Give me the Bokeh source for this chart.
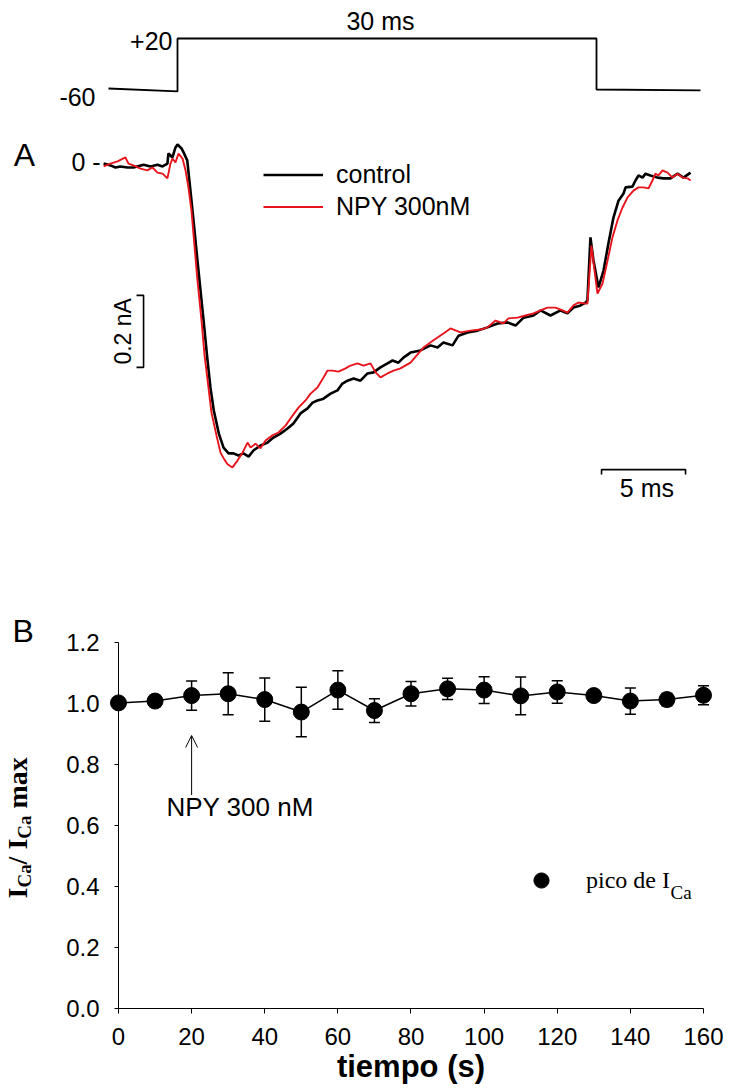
import math
from bokeh.plotting import figure
from bokeh.models import (Range1d, Label, Legend, LegendItem, Whisker, TeeHead, Arrow,
                          OpenHead, ColumnDataSource, FixedTicker, PrintfTickFormatter)
from bokeh.layouts import column
from bokeh.embed import file_html
from bokeh.resources import INLINE

# ---------------- Panel A data: Ca current traces (time in ms, current in nA) -------------
ctrl_t = [-4.40, -3.99, -3.69, -3.39, -2.98, -2.62, -2.02, -1.61, -1.19, -0.89, -0.60, -0.54,
          -0.30, -0.12, 0.00, 0.24, 0.36, 0.58, 0.77, 0.97, 1.17, 1.37, 1.57, 1.77, 1.96, 2.16,
          2.46, 2.74, 3.04, 3.33, 3.63, 3.93, 4.23, 4.52, 4.94, 5.36, 5.71, 6.13, 6.55, 6.90,
          7.32, 7.74, 8.04, 8.33, 8.69, 9.11, 9.52, 9.82, 10.12, 10.48, 10.89, 11.31, 11.67,
          12.08, 12.50, 12.80, 13.15, 13.45, 13.87, 14.46, 15.06, 15.48, 15.83, 16.37, 16.73,
          17.26, 17.86, 18.45, 19.05, 19.64, 20.12, 20.60, 21.19, 21.61, 22.20, 22.80, 23.21,
          23.57, 23.99, 24.29, 24.40, 24.58, 24.76, 25.06, 25.36, 25.65, 25.95, 26.25, 26.55,
          26.67, 27.08, 27.26, 27.44, 27.68, 27.86, 28.15, 28.57, 28.93, 29.35, 29.76, 30.12,
          30.54]
ctrl_i = [-0.003, -0.008, -0.014, -0.011, -0.014, -0.014, -0.006, -0.011, -0.006, -0.011,
          -0.003, 0.025, 0.014, 0.042, 0.050, 0.039, 0.028, 0.006, -0.078, -0.169, -0.264,
          -0.356, -0.447, -0.542, -0.625, -0.689, -0.753, -0.792, -0.808, -0.808, -0.814,
          -0.808, -0.817, -0.800, -0.786, -0.778, -0.764, -0.753, -0.739, -0.725, -0.697,
          -0.683, -0.667, -0.661, -0.656, -0.642, -0.633, -0.614, -0.606, -0.600, -0.606,
          -0.586, -0.583, -0.569, -0.558, -0.550, -0.556, -0.542, -0.528, -0.522, -0.508,
          -0.514, -0.500, -0.508, -0.481, -0.472, -0.467, -0.458, -0.447, -0.444, -0.453,
          -0.431, -0.425, -0.411, -0.425, -0.411, -0.419, -0.403, -0.397, -0.389, -0.383,
          -0.208, -0.272, -0.347, -0.300, -0.225, -0.153, -0.106, -0.086, -0.069, -0.067,
          -0.050, -0.036, -0.042, -0.031, -0.036, -0.042, -0.044, -0.044, -0.031, -0.042,
          -0.028]

npy_t = [-4.40, -3.99, -3.57, -3.10, -2.92, -2.62, -2.20, -1.79, -1.49, -1.19, -0.89, -0.60,
         -0.42, -0.30, -0.12, 0.06, 0.30, 0.48, 0.65, 0.83, 1.01, 1.19, 1.43, 1.61, 1.85, 2.02,
         2.32, 2.56, 2.80, 2.98, 3.27, 3.57, 3.87, 4.17, 4.35, 4.64, 4.94, 5.24, 5.65, 6.01,
         6.43, 6.85, 7.20, 7.62, 7.92, 8.33, 8.69, 8.93, 9.23, 9.58, 10.00, 10.30, 10.71,
         11.07, 11.49, 11.79, 12.08, 12.50, 12.86, 13.27, 13.87, 14.64, 15.24, 15.83, 16.25,
         16.85, 17.44, 18.04, 18.45, 18.93, 19.40, 19.70, 20.24, 20.71, 21.19, 21.61, 22.02,
         22.50, 22.92, 23.21, 23.57, 23.87, 24.29, 24.40, 24.64, 24.82, 25.00, 25.30, 25.60,
         25.89, 26.19, 26.49, 26.79, 27.14, 27.44, 27.74, 28.04, 28.27, 28.45, 28.63, 28.87,
         29.17, 29.46, 29.76, 30.06, 30.36, 30.54]
npy_i = [-0.011, -0.003, 0.003, 0.014, -0.003, -0.008, -0.017, -0.022, -0.014, -0.028, -0.031,
         -0.044, -0.003, 0.011, 0.000, 0.025, 0.011, -0.022, -0.069, -0.133, -0.231, -0.328,
         -0.439, -0.536, -0.628, -0.694, -0.758, -0.806, -0.826, -0.838, -0.847, -0.828,
         -0.806, -0.778, -0.792, -0.781, -0.794, -0.772, -0.758, -0.750, -0.731, -0.703,
         -0.681, -0.661, -0.642, -0.625, -0.597, -0.578, -0.578, -0.581, -0.572, -0.564,
         -0.558, -0.564, -0.558, -0.583, -0.597, -0.586, -0.578, -0.572, -0.556, -0.514,
         -0.494, -0.475, -0.461, -0.472, -0.467, -0.464, -0.458, -0.439, -0.447, -0.433,
         -0.431, -0.425, -0.419, -0.411, -0.403, -0.403, -0.411, -0.417, -0.397, -0.389,
         -0.392, -0.392, -0.231, -0.300, -0.364, -0.336, -0.272, -0.208, -0.161, -0.125,
         -0.097, -0.078, -0.069, -0.069, -0.072, -0.050, -0.031, -0.036, -0.022, -0.028,
         -0.042, -0.031, -0.042, -0.044, -0.050]

# voltage protocol (ms, mV)
vp_t = [-4.11, 0.0, 0.0, 24.94, 24.94, 31.13]
vp_mv = [-58.4, -63.1, 20.0, 20.0, -60.0, -61.5]
step_label = "30 ms"
sb_nA = 0.2      # vertical scale bar
sb_ms = 5.0      # horizontal scale bar

# ---------------- Panel B data -------------
tiempo = [0, 10, 20, 30, 40, 50, 60, 70, 80, 90, 100, 110, 120, 130, 140, 150, 160]
pico = [1.002, 1.008, 1.026, 1.032, 1.013, 0.972, 1.044, 0.977, 1.032, 1.048, 1.044, 1.025,
        1.038, 1.026, 1.008, 1.013, 1.027]
err = [0.015, 0.019, 0.048, 0.069, 0.071, 0.081, 0.063, 0.039, 0.040, 0.035, 0.044, 0.062,
       0.037, 0.018, 0.043, 0.020, 0.031]
x_ticks = [0, 20, 40, 60, 80, 100, 120, 140, 160]
y_ticks = [0.0, 0.2, 0.4, 0.6, 0.8, 1.0, 1.2]

SANS = "Liberation Sans"
SERIF = "Liberation Serif"


def lab(p, x, y, text, size, align="left", baseline="middle", angle=0.0, font=SANS,
        style="normal", yr="default"):
    p.add_layout(Label(x=x, y=y, text=text, text_font=font, text_font_size=f"{size}px",
                       text_align=align, text_baseline=baseline, angle=angle,
                       text_font_style=style, text_color="black", y_range_name=yr))


# ================= Panel A =================
pA = figure(width=729, height=560, output_backend="svg", toolbar_location=None,
            x_range=Range1d(-10.536, 32.857), y_range=Range1d(-1.10556, 0.45),
            x_axis_location=None, y_axis_location=None, min_border=0)
pA.extra_y_ranges = {"v": Range1d(-798.8, 79.6)}
pA.grid.visible = False
pA.outline_line_color = None

pA.line(vp_t, vp_mv, y_range_name="v", line_color="black", line_width=1.8)
r_ctrl = pA.line(ctrl_t, ctrl_i, line_color="black", line_width=2.6)
r_npy = pA.line(npy_t, npy_i, line_color="#e8141c", line_width=1.9)

# scale bars
vb_t, vb_i = -2.02, -0.369
pA.line([vb_t - 0.42, vb_t, vb_t, vb_t - 0.42], [vb_i, vb_i, vb_i - sb_nA, vb_i - sb_nA],
        line_color="black", line_width=1.6)
hb_t, hb_i = 25.24, -0.853
pA.line([hb_t, hb_t, hb_t + sb_ms, hb_t + sb_ms], [hb_i - 0.014, hb_i, hb_i, hb_i - 0.014],
        line_color="black", line_width=1.6)
lab(pA, vb_t - 1.25, vb_i - sb_nA / 2, f"{sb_nA} nA", 23, align="center", angle=math.pi / 2)
lab(pA, hb_t + sb_ms / 2 + 0.2, hb_i - 0.05, f"{sb_ms:.0f} ms", 25, align="center")

# protocol labels
lab(pA, -0.30, 15.3, "+20", 25, align="right", yr="v")
lab(pA, -4.88, -71.0, "-60", 25, align="right", yr="v")
lab(pA, 12.08, 46.7, step_label, 25, align="center", yr="v")
lab(pA, -4.58, 0.0, "0 -", 25, align="right")
lab(pA, -9.75, 0.022, "A", 32)

legA = Legend(items=[LegendItem(label="control", renderers=[r_ctrl]),
                     LegendItem(label="NPY 300nM", renderers=[r_npy])],
              location=(263, 339.5), glyph_width=60, glyph_height=29, label_height=29,
              spacing=3, label_standoff=13, padding=0, margin=0, border_line_color=None,
              background_fill_alpha=0, label_text_font=SANS, label_text_font_size="25px",
              label_text_color="black")
pA.add_layout(legA)

# ================= Panel B =================
pB = figure(width=729, height=530, output_backend="svg", toolbar_location=None,
            x_range=Range1d(-32.27, 167.11), y_range=Range1d(-0.2689, 1.4689), min_border=0)
pB.grid.visible = False
pB.outline_line_color = None
pB.xaxis.ticker = FixedTicker(ticks=x_ticks)
pB.yaxis.ticker = FixedTicker(ticks=y_ticks)
pB.yaxis.formatter = PrintfTickFormatter(format="%.1f")
pB.xaxis.fixed_location = 0
pB.yaxis.fixed_location = 0
pB.xaxis.bounds = (0, 160)
pB.yaxis.bounds = (0, 1.2)
for ax in pB.axis:
    ax.major_label_text_font = SANS
    ax.major_label_text_font_size = "24px"
    ax.major_label_text_color = "black"
    ax.axis_line_color = "black"
    ax.axis_line_width = 1
    ax.major_tick_line_color = "black"
    ax.major_tick_in = 0
    ax.minor_tick_line_color = None
pB.xaxis.major_tick_out = 5
pB.yaxis.major_tick_out = 4
pB.xaxis.major_label_standoff = 15
pB.yaxis.major_label_standoff = 15
pB.xaxis.axis_label = "tiempo (s)"
pB.xaxis.axis_label_text_font = SANS
pB.xaxis.axis_label_text_font_style = "bold"
pB.xaxis.axis_label_text_font_size = "31px"
pB.xaxis.axis_label_text_color = "black"
pB.xaxis.axis_label_standoff = 0

src = ColumnDataSource(dict(t=tiempo, m=pico,
                            lo=[m - e for m, e in zip(pico, err)],
                            hi=[m + e for m, e in zip(pico, err)]))
pB.add_layout(Whisker(base="t", upper="hi", lower="lo", source=src, level="overlay",
                      line_color="black", line_width=1.5,
                      upper_head=TeeHead(size=11, line_width=1.5, line_color="black"),
                      lower_head=TeeHead(size=11, line_width=1.5, line_color="black")))
pB.line("t", "m", source=src, line_color="black", line_width=1.5, level="overlay")
r_pico = pB.scatter("t", "m", source=src, size=16, fill_color="black", line_color="black",
                    level="overlay")

pB.add_layout(Arrow(end=OpenHead(size=12, line_width=1, line_color="black"),
                    x_start=20, y_start=0.70, x_end=20, y_end=0.895,
                    line_width=1, line_color="black"))
lab(pB, 13.1, 0.66, "NPY 300 nM", 26)
lab(pB, -29.0, 1.239, "B", 32)

legB = Legend(items=[LegendItem(label="pico de I", renderers=[r_pico])],
              location=(522, 191), glyph_width=38, glyph_height=38, label_height=38,
              label_standoff=26, padding=0, margin=0, border_line_color=None,
              background_fill_alpha=0, label_text_font=SERIF, label_text_font_size="24px",
              label_text_color="black")
pB.add_layout(legB)
lab(pB, 151.0, 0.380, "Ca", 19, baseline="alphabetic", font=SERIF)

# y-axis label  I_Ca / I_Ca max  (rotated)
xm, xs = -27.62, -25.71
lab(pB, xm, 0.3607, "I", 28, baseline="alphabetic", angle=math.pi / 2, font=SERIF, style="bold")
lab(pB, xs, 0.3964, "Ca", 19, baseline="alphabetic", angle=math.pi / 2, font=SERIF, style="bold")
lab(pB, xm, 0.4725, "/ I", 28, baseline="alphabetic", angle=math.pi / 2, font=SERIF, style="bold")
lab(pB, xs, 0.5567, "Ca", 19, baseline="alphabetic", angle=math.pi / 2, font=SERIF, style="bold")
lab(pB, xm, 0.6558, "max", 28, baseline="alphabetic", angle=math.pi / 2, font=SERIF, style="bold")

layout = column(pA, pB)
open("out.html", "w").write(file_html(layout, INLINE))
